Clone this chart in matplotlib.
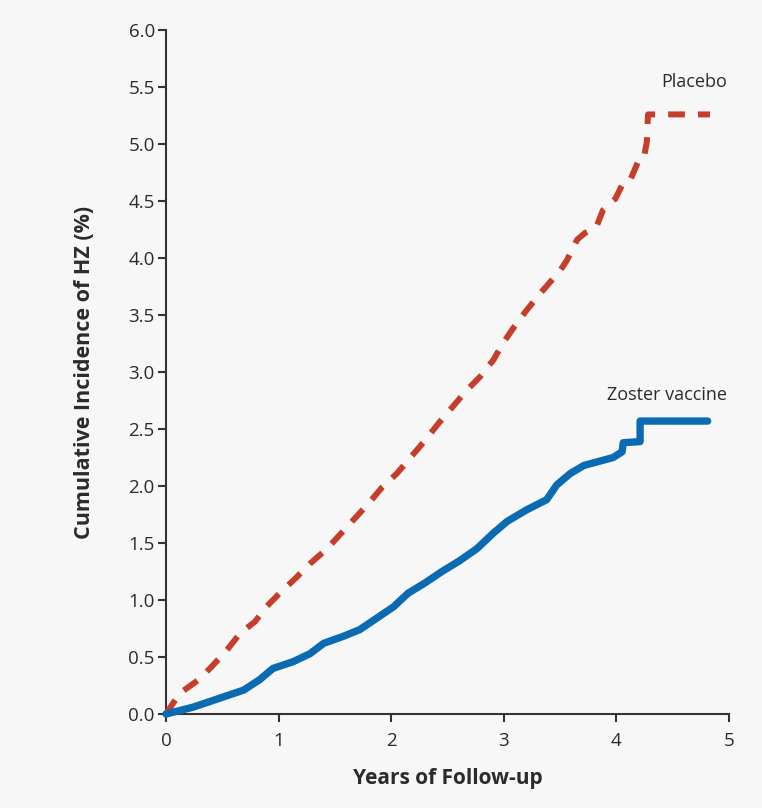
import numpy as np
import matplotlib.pyplot as plt

# Kaplan-Meier style cumulative incidence
placebo_x = [0, 0.12, 0.29, 0.41, 0.54, 0.66, 0.79, 0.89, 1.01, 1.16, 1.28, 1.43, 1.56, 1.69,
             1.81, 1.92, 2.05, 2.18, 2.30, 2.42, 2.55, 2.67, 2.79, 2.91, 2.99, 3.08, 3.20,
             3.35, 3.50, 3.56, 3.65, 3.72, 3.82, 3.88, 3.99, 4.06, 4.12, 4.19, 4.24, 4.27,
             4.28, 4.83]
placebo_y = [0, 0.18, 0.30, 0.42, 0.56, 0.71, 0.81, 0.94, 1.06, 1.20, 1.32, 1.45, 1.59, 1.73,
             1.86, 1.99, 2.11, 2.26, 2.40, 2.55, 2.70, 2.84, 2.96, 3.11, 3.25, 3.38, 3.54,
             3.72, 3.89, 3.98, 4.16, 4.22, 4.27, 4.42, 4.52, 4.66, 4.68, 4.84, 4.86, 5.02,
             5.26, 5.26]

vaccine_x = [0, 0.24, 0.48, 0.69, 0.83, 0.95, 1.13, 1.28, 1.40, 1.57, 1.72, 1.84, 2.02, 2.15,
             2.30, 2.45, 2.60, 2.76, 2.91, 3.03, 3.20, 3.38, 3.47, 3.59, 3.71, 3.82, 3.97,
             4.05, 4.06, 4.21, 4.21, 4.81]
vaccine_y = [0, 0.06, 0.14, 0.21, 0.30, 0.40, 0.46, 0.53, 0.62, 0.68, 0.74, 0.82, 0.94, 1.06,
             1.15, 1.25, 1.34, 1.45, 1.59, 1.69, 1.79, 1.88, 2.01, 2.11, 2.18, 2.21, 2.25,
             2.30, 2.38, 2.39, 2.57, 2.57]

bg = '#f7f7f7'
txt = '#2b2b2b'
plt.rcParams['font.family'] = ['Open Sans', 'DejaVu Sans']

fig = plt.figure(figsize=(7.62, 8.08), dpi=100, facecolor=bg)
ax = fig.add_axes([0.2178, 0.1163, 0.739, 0.8465], facecolor=bg)

ax.plot(placebo_x, placebo_y, color='#c43e2a', lw=4.3, dashes=(2.8, 2.2),
        dash_capstyle='butt', clip_on=False, zorder=3)
ax.plot(vaccine_x, vaccine_y, color='#0a6bb3', lw=5.3, solid_capstyle='round',
        solid_joinstyle='round', clip_on=False, zorder=3)

ax.text(4.98, 5.54, 'Placebo', ha='right', va='center', fontsize=13, color=txt)
ax.text(4.98, 2.80, 'Zoster vaccine', ha='right', va='center', fontsize=13, color=txt)

ax.set_xlim(0, 5)
ax.set_ylim(0, 6)
ax.set_xticks(range(6))
ax.set_yticks(np.arange(0, 6.01, 0.5))
ax.set_yticklabels([f'{v:.1f}' for v in np.arange(0, 6.01, 0.5)])

for s in ['top', 'right']:
    ax.spines[s].set_visible(False)
for s in ['left', 'bottom']:
    ax.spines[s].set_color('#333333')
    ax.spines[s].set_linewidth(1.5)
ax.tick_params(length=6, width=1.5, color='#333333', labelsize=13.5, labelcolor=txt)
ax.tick_params(axis='x', pad=7)
ax.tick_params(axis='y', pad=2)

ax.set_xlabel('Years of Follow-up', fontsize=15, fontweight='bold', color=txt, labelpad=13)
ax.set_ylabel('Cumulative Incidence of HZ (%)', fontsize=15.5, fontweight='bold', color=txt,
              labelpad=24)

fig.savefig('out.png', dpi=100, facecolor=bg)
